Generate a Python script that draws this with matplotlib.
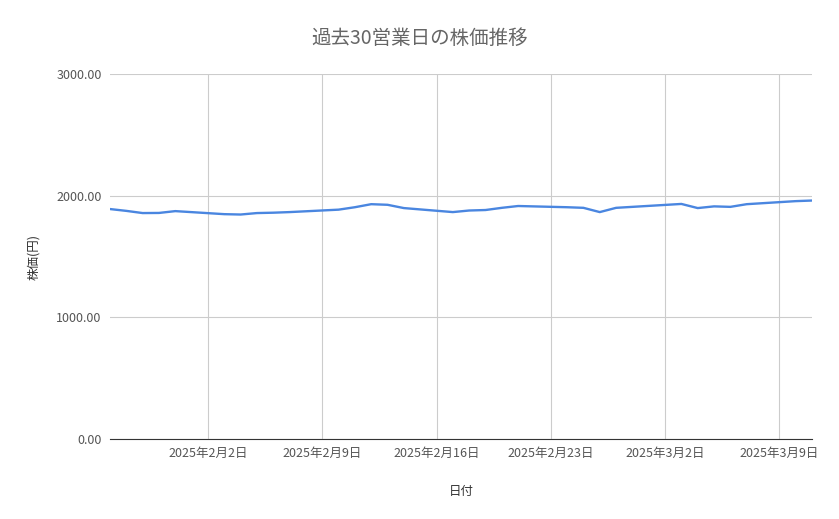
import numpy as np
import pandas as pd
import matplotlib.pyplot as plt
import matplotlib.dates as mdates
from matplotlib.ticker import FuncFormatter

plt.rcParams['font.family'] = ['Noto Sans CJK JP', 'DejaVu Sans']

# Data (business days)
dates = pd.to_datetime([
    "2025-01-27", "2025-01-28", "2025-01-29", "2025-01-30", "2025-01-31",
    "2025-02-03", "2025-02-04", "2025-02-05", "2025-02-06", "2025-02-07",
    "2025-02-10", "2025-02-11", "2025-02-12", "2025-02-13", "2025-02-14",
    "2025-02-17", "2025-02-18", "2025-02-19", "2025-02-20", "2025-02-21",
    "2025-02-24", "2025-02-25", "2025-02-26", "2025-02-27", "2025-02-28",
    "2025-03-03", "2025-03-04", "2025-03-05", "2025-03-06", "2025-03-07",
    "2025-03-10", "2025-03-11",
])
prices = [
    1890, 1875, 1857, 1858, 1873,
    1848, 1845, 1857, 1860, 1865,
    1885, 1905, 1930, 1925, 1898,
    1865, 1878, 1882, 1900, 1915,
    1905, 1900, 1865, 1900, 1908,
    1932, 1898, 1912, 1908, 1930,
    1955, 1960,
]
tick_dates = pd.to_datetime(["2025-02-02", "2025-02-09", "2025-02-16",
                             "2025-02-23", "2025-03-02", "2025-03-09"])

fig = plt.figure(figsize=(8.39, 5.19), dpi=100)
ax = fig.add_axes([110/839, 1 - 439/519, (812-110)/839, (439-74)/519])
ax.plot(dates, prices, color='#4a86e0', lw=1.7)

ax.set_xlim(dates[0], dates[-1])
ax.set_ylim(0, 3000)
ax.set_yticks([0, 1000, 2000, 3000])
ax.yaxis.set_major_formatter(FuncFormatter(lambda v, p: "%.2f" % v))
ax.set_xticks(tick_dates)
ax.xaxis.set_major_formatter(FuncFormatter(
    lambda v, p: "%d年%d月%d日" % (mdates.num2date(v).year, mdates.num2date(v).month, mdates.num2date(v).day)))

ax.grid(True, color='#cccccc', lw=0.8)
ax.set_axisbelow(True)
for s in ['top', 'right', 'left']:
    ax.spines[s].set_visible(False)
ax.spines['bottom'].set_color('#333333')
ax.tick_params(length=0, labelsize=9, colors='#555555', pad=6)

fig.text(0.5, 1 - 38/519, "過去30営業日の株価推移", fontsize=14, color='#666666',
         ha='center', va='center')
ax.set_xlabel("日付", fontsize=9, color='#333333', labelpad=18)
ax.set_ylabel("株価(円)", fontsize=9, color='#333333', labelpad=12)

fig.savefig("out.png", dpi=100)
